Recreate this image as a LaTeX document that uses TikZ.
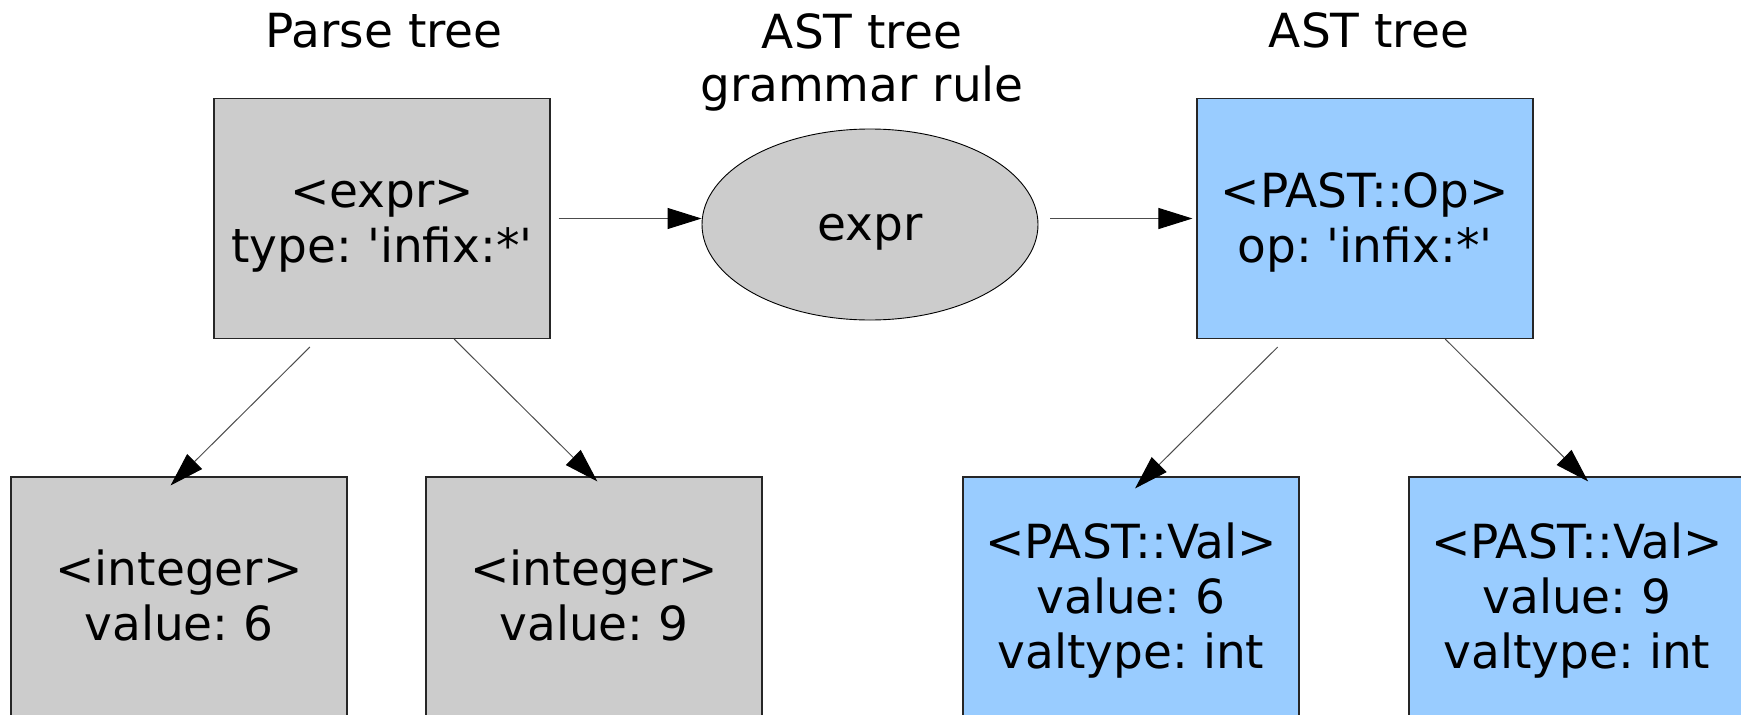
\documentclass[tikz,border=0pt]{standalone}
\usepackage{fontspec}
\setmainfont{DejaVu Sans}[Ligatures=TeXOff]
\usetikzlibrary{arrows.meta,calc,shapes.geometric}
\definecolor{nodegray}{HTML}{CCCCCC}
\definecolor{nodeblue}{HTML}{99CCFF}
% full ascent/descent of the font, so every line keeps the same height
\newcommand\lostrut{\rule[-0.236em]{0pt}{1.164em}}
\tikzset{
  lbl/.style={font=\fontsize{47}{55}\selectfont\frenchspacing, inner sep=0pt, align=center},
  title/.style={font=\fontsize{47}{53}\selectfont\frenchspacing, inner sep=0pt, align=center},
  treebox/.style={lbl, draw=black!85, line width=1.1pt,
    minimum width=336pt, minimum height=240pt},
  parsebox/.style={treebox, fill=nodegray},
  astbox/.style={treebox, fill=nodeblue},
  rulenode/.style={lbl, ellipse, draw=black, line width=0.9pt, fill=nodegray,
    minimum width=336pt, minimum height=191pt},
  arr/.style={draw=black!70, line width=1pt,
    -{Triangle[length=34pt,width=21pt,color=black]}},
}
\begin{document}
\begin{tikzpicture}[x=1pt, y=-1pt]
\useasboundingbox (0,0) rectangle (1741,715);
\clip (0,0) rectangle (1741,715);

% column titles
\node[title, anchor=base] (t1) at (384,47) {Parse tree};
\node[title] (t2) at (862,62) {AST tree\\grammar rule};
\node[title, anchor=base] (t3) at (1369,47) {AST tree};

% top row
\node[parsebox] (pt) at (382,218.5) {\lostrut<expr>\\\lostrut type: 'infix:*'};
\node[rulenode] (rule) at (870,224.5) {\lostrut expr};
\node[astbox] (at) at (1365,218.5) {\lostrut<PAST::Op>\\\lostrut op: 'infix:*'};

% leaves
\node[parsebox] (b1) at (179,597) {\lostrut<integer>\\\lostrut value: 6};
\node[parsebox] (b2) at (594,597) {\lostrut<integer>\\\lostrut value: 9};
\node[astbox] (b3) at (1131,597)
  {\lostrut<PAST::Val>\\\lostrut value: 6\\\lostrut valtype: int};
\node[astbox] (b4) at (1577,597)
  {\lostrut<PAST::Val>\\\lostrut value: 9\\\lostrut valtype: int};

% transformation arrows
\coordinate (h1) at ([xshift=8pt]pt.east);
\draw[arr] (h1) -- (h1 -| rule.west);
\coordinate (h2) at ([xshift=12pt]rule.east);
\draw[arr, shorten >=4pt] (h2 |- at.west) -- (at.west);

% tree edges
\draw[arr] ($(pt.south west)!0.286!(pt.south east)+(0,8)$)
        -- ($(b1.north west)!0.475!(b1.north east)+(0,9)$);
\draw[arr] ($(pt.south west)!0.714!(pt.south east)$)
        -- ($(b2.north west)!0.51!(b2.north east)+(0,5)$);
\draw[arr] ($(at.south west)!0.241!(at.south east)+(0,8)$)
        -- ($(b3.north west)!0.512!(b3.north east)+(0,12)$);
\draw[arr] ($(at.south west)!0.738!(at.south east)$)
        -- ($(b4.north west)!0.533!(b4.north east)+(0,5)$);
\end{tikzpicture}
\end{document}
